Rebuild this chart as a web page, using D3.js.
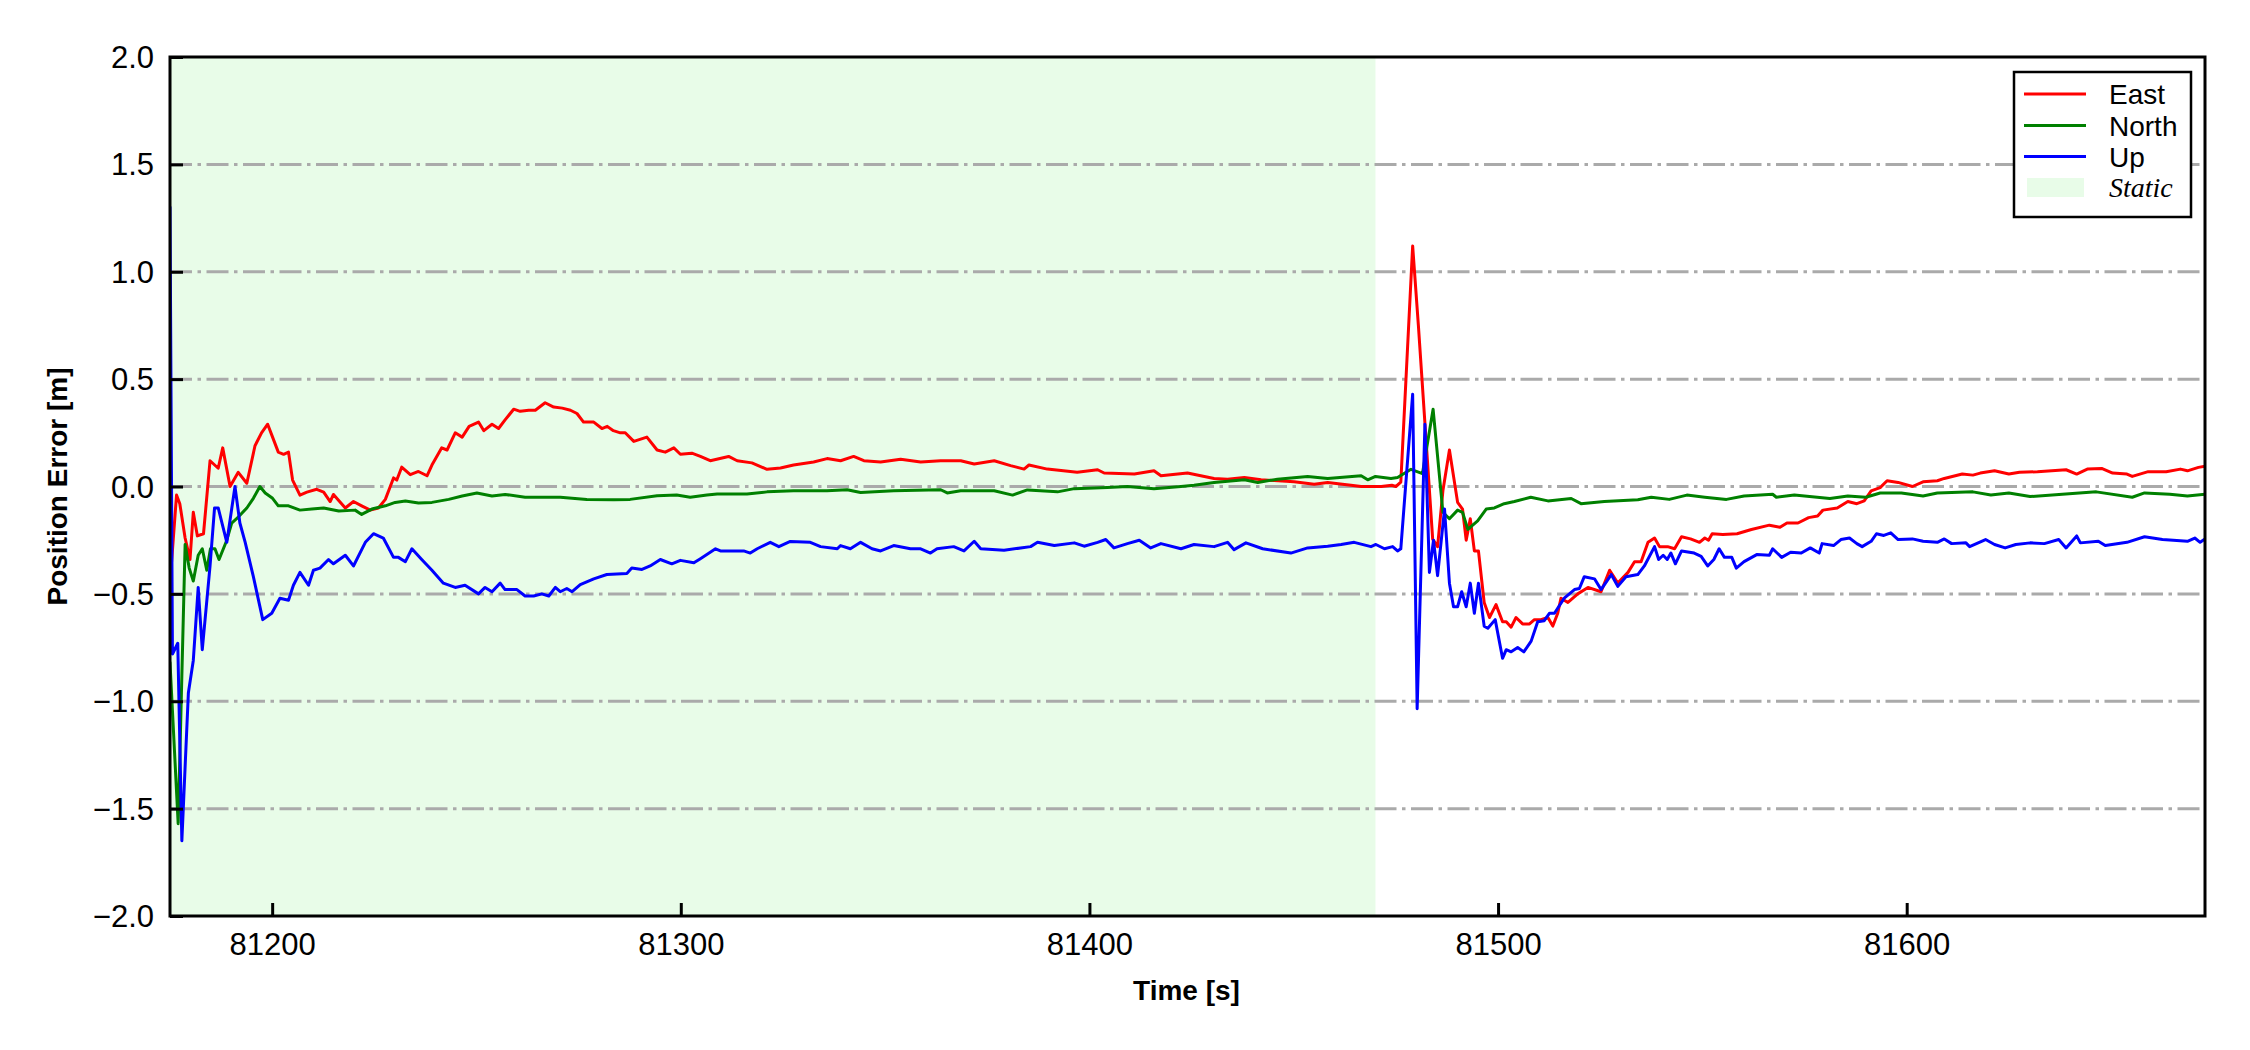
<!DOCTYPE html>
<html>
<head>
<meta charset="utf-8">
<script src="https://cdn.jsdelivr.net/npm/d3@7"></script>
<style>
  html, body { margin: 0; padding: 0; background: #fff; }
  svg { display: block; }
</style>
</head>
<body>
<svg id="chart" width="2250" height="1050"></svg>
<script>
// ---------------- data ----------------
const seriesNames = ["East", "North", "Up"];
const seriesColors = ["#ff0000", "#008000", "#0000ff"];
const staticSpan = [81175, 81470];
const xTicks = [81200, 81300, 81400, 81500, 81600];
const yTicks = [-2.0, -1.5, -1.0, -0.5, 0.0, 0.5, 1.0, 1.5, 2.0];

const eastData = [
[81175,-0.45],[81176.6,-0.04],[81177.4,-0.08],[81178.7,-0.24],[81179.9,-0.34],[81180.7,-0.12],[81181.7,-0.23],[81183.2,-0.22],
[81184.8,0.12],[81186.8,0.085],[81187.9,0.18],[81189.7,0.0],[81191.7,0.066],[81193.8,0.015],[81195.8,0.19],[81197.4,0.25],
[81198.9,0.29],[81200.1,0.23],[81201.5,0.16],[81202.8,0.15],[81204,0.16],[81205,0.03],[81206.8,-0.04],[81208.5,-0.026],
[81210.9,-0.013],[81212.6,-0.026],[81214.2,-0.07],[81215,-0.037],[81217.9,-0.1],[81219.9,-0.07],[81221.9,-0.09],[81224,-0.11],
[81226,-0.1],[81227.7,-0.06],[81229.7,0.04],[81230.5,0.03],[81231.7,0.09],[81233.8,0.055],[81235.8,0.07],[81237.9,0.05],
[81239.1,0.1],[81241.5,0.18],[81242.8,0.17],[81244.8,0.25],[81246.5,0.23],[81248.2,0.28],[81250.5,0.30],[81251.8,0.26],
[81253.8,0.29],[81255.4,0.27],[81257,0.31],[81259.1,0.36],[81260.7,0.35],[81262.8,0.355],[81264.4,0.355],[81266.8,0.39],
[81268.9,0.37],[81271,0.365],[81273,0.355],[81274.6,0.34],[81276.2,0.30],[81278.7,0.30],[81280.7,0.27],[81282,0.28],
[81283.5,0.26],[81285.2,0.25],[81286.4,0.25],[81288.5,0.21],[81291.7,0.23],[81294.2,0.17],[81296.2,0.16],[81298.3,0.18],
[81299.9,0.15],[81302.7,0.155],[81304.8,0.14],[81307.2,0.12],[81311.7,0.14],[81313.8,0.12],[81317.4,0.11],[81321.1,0.08],
[81324.4,0.086],[81327.6,0.10],[81332.5,0.114],[81335.8,0.13],[81339.1,0.12],[81342.3,0.14],[81344.8,0.12],[81348.9,0.114],
[81353.8,0.127],[81358.7,0.114],[81363.6,0.12],[81368.5,0.12],[81371.8,0.105],[81376.7,0.12],[81380.7,0.097],[81384,0.081],
[81385.2,0.1],[81389.7,0.081],[81397,0.066],[81402,0.078],[81403.6,0.063],[81411,0.058],[81415.8,0.073],[81417.5,0.05],
[81424,0.063],[81430.5,0.0375],[81433.8,0.034],[81437.9,0.042],[81442,0.031],[81450.1,0.022],[81455,0.011],[81458.3,0.019],
[81464,0.006],[81466.5,0.0],[81471.4,0.0],[81474,0.006],[81475,0.0],[81476.2,0.02],[81479.1,1.12],[81480.5,0.75],
[81484,-0.245],[81485.2,-0.28],[81486.5,-0.02],[81488.1,0.17],[81490.1,-0.074],[81491.3,-0.105],[81492.2,-0.25],[81493.2,-0.15],
[81494.2,-0.30],[81495.2,-0.30],[81496.6,-0.54],[81497.9,-0.61],[81499.5,-0.55],[81501.1,-0.63],[81502,-0.63],[81503.2,-0.655],
[81504.4,-0.61],[81506,-0.64],[81507.7,-0.64],[81508.9,-0.62],[81510.5,-0.62],[81512.2,-0.61],[81513.4,-0.65],[81514.6,-0.59],
[81515.4,-0.52],[81517.1,-0.54],[81519.5,-0.50],[81522,-0.47],[81525.2,-0.49],[81527.3,-0.39],[81529.3,-0.45],[81531.8,-0.40],
[81533.4,-0.35],[81535,-0.35],[81536.7,-0.26],[81538.3,-0.24],[81539.5,-0.28],[81541.5,-0.28],[81543.2,-0.29],[81544.9,-0.234],
[81547.1,-0.244],[81549.3,-0.26],[81550.6,-0.24],[81551.5,-0.25],[81552.4,-0.22],[81555,-0.223],[81558.5,-0.22],[81562,-0.2],
[81566.4,-0.18],[81569,-0.19],[81570.7,-0.17],[81573.4,-0.17],[81576,-0.145],[81578.2,-0.1375],[81579.5,-0.11],[81583,-0.1],
[81585.6,-0.07],[81587.8,-0.08],[81589.6,-0.067],[81591.3,-0.02],[81593.5,-0.005],[81595.2,0.027],[81597.9,0.019],[81601.4,0.0],
[81604,0.022],[81607.5,0.027],[81609.2,0.0375],[81613.6,0.058],[81616.2,0.053],[81618,0.0625],[81621.5,0.073],[81625,0.058],
[81627.6,0.066],[81632,0.069],[81635.5,0.073],[81639,0.078],[81641.6,0.058],[81644.2,0.081],[81647.7,0.084],[81650.4,0.0625],
[81653.9,0.058],[81655.2,0.047],[81659.1,0.069],[81663.5,0.069],[81667,0.081],[81668.7,0.073],[81671.4,0.089],[81673,0.094]
];

const northData = [
[81175,-0.82],[81177,-1.57],[81178.7,-0.27],[81179.7,-0.38],[81180.7,-0.44],[81181.9,-0.32],[81182.9,-0.29],[81184,-0.39],
[81184.9,-0.29],[81186,-0.29],[81187,-0.34],[81188.9,-0.25],[81190.1,-0.17],[81191.3,-0.15],[81193.8,-0.10],[81195.4,-0.055],
[81197,0.0],[81198.3,-0.03],[81200.1,-0.055],[81201.5,-0.09],[81204,-0.09],[81206.8,-0.11],[81209.7,-0.105],[81212.6,-0.10],
[81216.3,-0.114],[81220.3,-0.11],[81221.9,-0.13],[81224.4,-0.105],[81227.7,-0.09],[81230.1,-0.074],[81232.6,-0.068],[81235.8,-0.077],
[81239.1,-0.074],[81243.2,-0.06],[81246.5,-0.044],[81250.1,-0.03],[81253.8,-0.044],[81257,-0.037],[81261.9,-0.05],[81266.8,-0.05],
[81270.5,-0.05],[81277,-0.06],[81283.6,-0.062],[81287.6,-0.06],[81294.2,-0.043],[81299,-0.04],[81302.3,-0.05],[81306.4,-0.04],
[81308.9,-0.035],[81316.2,-0.035],[81321.1,-0.025],[81327.6,-0.02],[81335.8,-0.02],[81340.7,-0.015],[81344,-0.028],[81352.1,-0.02],
[81363.6,-0.015],[81365.2,-0.03],[81368.5,-0.02],[81376.7,-0.02],[81381.2,-0.04],[81384.8,-0.016],[81392.2,-0.025],[81396.3,-0.01],
[81404.4,-0.005],[81409.3,0.0],[81415.8,-0.01],[81422.4,0.0],[81425.6,0.006],[81430.5,0.019],[81437.9,0.031],[81441.2,0.019],
[81446,0.034],[81453.4,0.047],[81458.3,0.0375],[81466.5,0.05],[81468.1,0.031],[81470,0.047],[81473.8,0.037],[81475.4,0.042],
[81478.7,0.08],[81481.5,0.06],[81484.1,0.36],[81486.5,-0.12],[81488.1,-0.15],[81490.1,-0.11],[81491.3,-0.12],[81492.6,-0.20],
[81495,-0.16],[81497.1,-0.105],[81499.1,-0.10],[81501.5,-0.08],[81504,-0.07],[81508,-0.05],[81512.2,-0.067],[81517.9,-0.056],
[81520.3,-0.08],[81526,-0.07],[81534.2,-0.062],[81537.5,-0.05],[81541.9,-0.06],[81546.2,-0.04],[81550.6,-0.05],[81555.9,-0.06],
[81560.2,-0.044],[81567.2,-0.036],[81568.1,-0.05],[81572.5,-0.04],[81581.2,-0.056],[81585.6,-0.044],[81590,-0.05],[81593.5,-0.03],
[81598.7,-0.03],[81604,-0.044],[81607.5,-0.03],[81616.2,-0.025],[81620.6,-0.04],[81625,-0.03],[81630.2,-0.047],[81638.1,-0.036],
[81646.4,-0.025],[81655.2,-0.05],[81658.2,-0.03],[81664.4,-0.036],[81668.7,-0.044],[81673,-0.036]
];

const upData = [
[81175,1.3],[81175.6,-0.78],[81176.9,-0.73],[81177.9,-1.65],[81179.5,-0.96],[81180.7,-0.81],[81181.9,-0.47],[81182.9,-0.76],
[81184.8,-0.37],[81185.9,-0.10],[81186.8,-0.10],[81188.9,-0.26],[81190.9,0.0],[81192.1,-0.17],[81193.4,-0.26],[81195.4,-0.42],
[81197.7,-0.62],[81199.9,-0.59],[81201.9,-0.52],[81204,-0.53],[81205.2,-0.46],[81206.8,-0.40],[81208.9,-0.46],[81210.1,-0.39],
[81211.7,-0.38],[81213.8,-0.34],[81215,-0.36],[81217.9,-0.32],[81219.9,-0.37],[81222.8,-0.26],[81224.8,-0.22],[81227.2,-0.24],
[81229.7,-0.33],[81230.9,-0.33],[81232.6,-0.35],[81234.2,-0.29],[81236.6,-0.34],[81239.1,-0.39],[81241.9,-0.45],[81244.8,-0.47],
[81247.2,-0.46],[81250.5,-0.50],[81252.1,-0.47],[81253.8,-0.49],[81255.8,-0.45],[81257,-0.48],[81259.9,-0.48],[81261.9,-0.51],
[81264,-0.51],[81266,-0.50],[81267.7,-0.51],[81269.3,-0.47],[81270.5,-0.49],[81272.1,-0.475],[81273.4,-0.49],[81275.4,-0.457],
[81278.7,-0.43],[81281.9,-0.41],[81286.8,-0.405],[81288,-0.38],[81290.5,-0.386],[81292.5,-0.37],[81295,-0.34],[81297.8,-0.36],
[81299.9,-0.344],[81303.2,-0.355],[81304.8,-0.336],[81308.5,-0.29],[81309.7,-0.30],[81315.4,-0.30],[81317,-0.31],[81318.7,-0.29],
[81321.9,-0.26],[81324,-0.28],[81326.8,-0.256],[81331.7,-0.26],[81334.2,-0.28],[81338.3,-0.29],[81339.1,-0.275],[81341.5,-0.29],
[81344,-0.26],[81346.8,-0.29],[81348.9,-0.30],[81352.1,-0.275],[81356.2,-0.29],[81358.7,-0.29],[81361.1,-0.31],[81362.7,-0.29],
[81366.8,-0.28],[81369.3,-0.30],[81371.8,-0.255],[81373.4,-0.29],[81379.1,-0.297],[81385.6,-0.28],[81387.3,-0.26],[81391.4,-0.275],
[81396.3,-0.2625],[81398.7,-0.278],[81402,-0.26],[81404,-0.247],[81406,-0.286],[81409.3,-0.266],[81412.2,-0.25],[81415,-0.286],
[81417.5,-0.266],[81422.4,-0.29],[81425.6,-0.27],[81430.5,-0.28],[81433.8,-0.26],[81435.4,-0.294],[81438.3,-0.2625],[81442.4,-0.29],
[81449.3,-0.31],[81453.4,-0.286],[81458.3,-0.278],[81461.6,-0.27],[81464.8,-0.26],[81468.9,-0.28],[81470.1,-0.27],[81472.2,-0.29],
[81474.2,-0.28],[81475.4,-0.30],[81476.2,-0.29],[81479.1,0.43],[81480.2,-1.035],[81482.1,0.29],[81483.2,-0.40],[81484.2,-0.25],
[81485.2,-0.415],[81486.9,-0.105],[81488.1,-0.45],[81489.1,-0.56],[81490.1,-0.56],[81491.1,-0.49],[81492.2,-0.56],[81493.2,-0.45],
[81494.2,-0.59],[81495.2,-0.45],[81496.6,-0.65],[81497.5,-0.66],[81499.3,-0.62],[81501.1,-0.80],[81502,-0.76],[81503.2,-0.77],
[81504.8,-0.75],[81506.3,-0.77],[81508.1,-0.72],[81509.7,-0.63],[81511.3,-0.625],[81512.6,-0.59],[81513.8,-0.59],[81516.2,-0.52],
[81518.7,-0.48],[81519.9,-0.475],[81521.1,-0.42],[81523.6,-0.43],[81525.2,-0.48],[81527.7,-0.41],[81529.3,-0.465],[81531.3,-0.42],
[81534.2,-0.41],[81535.8,-0.37],[81538.3,-0.28],[81539.3,-0.34],[81540.4,-0.32],[81541.4,-0.34],[81542.3,-0.31],[81543.4,-0.36],
[81544.9,-0.30],[81548,-0.31],[81549.7,-0.325],[81551.3,-0.37],[81552.8,-0.34],[81554.1,-0.29],[81555.4,-0.33],[81557.2,-0.33],
[81558.3,-0.38],[81560.2,-0.35],[81563.3,-0.317],[81566.4,-0.32],[81567.2,-0.29],[81569.4,-0.33],[81571.6,-0.306],[81574.2,-0.31],
[81576.4,-0.286],[81578.6,-0.31],[81579.3,-0.266],[81582.1,-0.275],[81583.9,-0.247],[81586,-0.24],[81587.8,-0.266],[81589.1,-0.28],
[81591.3,-0.255],[81592.6,-0.22],[81594.4,-0.228],[81596.1,-0.216],[81597.9,-0.247],[81601.4,-0.244],[81604,-0.255],[81607.5,-0.26],
[81609.2,-0.244],[81611,-0.266],[81614.5,-0.2625],[81615.4,-0.28],[81619.3,-0.247],[81621.5,-0.27],[81624.1,-0.286],[81626.7,-0.27],
[81630.2,-0.2625],[81633.7,-0.266],[81637.2,-0.247],[81639,-0.286],[81641.6,-0.23],[81642.5,-0.2625],[81646.9,-0.255],[81648.6,-0.275],
[81653.9,-0.26],[81658.2,-0.234],[81662.6,-0.247],[81668.7,-0.255],[81670.5,-0.24],[81671.8,-0.26],[81673,-0.244]
];

const seriesData = [eastData, northData, upData];

// ---------------- layout ----------------
const SANS = "'Liberation Sans', Arial, Helvetica, sans-serif";
const SERIF = "'Liberation Serif', 'Times New Roman', Times, serif";
const STATIC_FILL = "#e8fce8";

const svg = d3.select("#chart");
const L = 170, R = 2205, T = 57, B = 916;
const x = d3.scaleLinear().domain([81175, 81673]).range([L, R]);
const y = d3.scaleLinear().domain([-2, 2]).range([B, T]);
const fmtY = d3.format(".1f");

// static span
svg.append("rect")
  .attr("x", x(staticSpan[0])).attr("y", T)
  .attr("width", x(staticSpan[1]) - x(staticSpan[0])).attr("height", B - T)
  .attr("fill", STATIC_FILL);

// grid lines (dash-dot)
svg.append("g").selectAll("line")
  .data(yTicks.filter(d => d > -2 && d < 2))
  .join("line")
  .attr("x1", L).attr("x2", R)
  .attr("y1", d => y(d)).attr("y2", d => y(d))
  .attr("stroke", "#aaaaaa").attr("stroke-width", 3)
  .attr("stroke-dasharray", "22,5.5,3.5,5.5");

// clip for lines
svg.append("clipPath").attr("id", "clip")
  .append("rect").attr("x", L).attr("y", T).attr("width", R - L).attr("height", B - T);

const line = d3.line().x(d => x(d[0])).y(d => y(d[1]));
const lg = svg.append("g").attr("clip-path", "url(#clip)");
seriesData.forEach((data, i) => {
  lg.append("path").datum(data)
    .attr("d", line)
    .attr("fill", "none")
    .attr("stroke", seriesColors[i])
    .attr("stroke-width", 3)
    .attr("stroke-linejoin", "round")
    .attr("stroke-linecap", "round");
});

// axes (ticks inward)
const yAxis = d3.axisLeft(y).tickValues(yTicks).tickSize(-13).tickPadding(16).tickFormat(fmtY);
const xAxis = d3.axisBottom(x).tickValues(xTicks).tickSize(-13).tickPadding(16).tickFormat(d3.format("d"));

const gy = svg.append("g").attr("transform", `translate(${L},0)`).call(yAxis);
const gx = svg.append("g").attr("transform", `translate(0,${B})`).call(xAxis);
[gx, gy].forEach(g => {
  g.attr("font-family", null).attr("font-size", null);
  g.select(".domain").remove();
  g.selectAll(".tick line").attr("stroke", "#000").attr("stroke-width", 3);
  g.selectAll(".tick text").style("font-size", "31px").style("font-family", SANS).attr("fill", "#000");
});
gx.selectAll(".tick text").attr("dy", null).attr("y", 39);
gy.selectAll(".tick text").attr("x", -16).attr("dy", "0.34em");

// frame
svg.append("rect").attr("x", L).attr("y", T).attr("width", R - L).attr("height", B - T)
  .attr("fill", "none").attr("stroke", "#000").attr("stroke-width", 3);

// axis labels
svg.append("text").attr("x", (L + R) / 2 - 1).attr("y", 1000)
  .attr("text-anchor", "middle").style("font-size", "28px").style("font-weight", "bold").style("font-family", SANS)
  .text("Time [s]");
svg.append("text").attr("transform", `translate(67,${(T + B) / 2}) rotate(-90)`)
  .attr("text-anchor", "middle").style("font-size", "28px").style("font-weight", "bold").style("font-family", SANS)
  .text("Position Error [m]");

// legend
const leg = svg.append("g");
leg.append("rect").attr("x", 2014).attr("y", 72).attr("width", 177).attr("height", 145)
  .attr("fill", "#fff").attr("stroke", "#000").attr("stroke-width", 2.5);
const legY = [94, 125.5, 156.5];
seriesNames.forEach((name, i) => {
  leg.append("line").attr("x1", 2024).attr("x2", 2086).attr("y1", legY[i]).attr("y2", legY[i])
    .attr("stroke", seriesColors[i]).attr("stroke-width", 3);
  leg.append("text").attr("x", 2109).attr("y", legY[i] + 10)
    .style("font-size", "28px").style("font-family", SANS).text(name);
});
leg.append("rect").attr("x", 2027).attr("y", 178).attr("width", 57).attr("height", 19).attr("fill", STATIC_FILL);
leg.append("text").attr("x", 2109).attr("y", 197)
  .style("font-size", "28px").style("font-family", SERIF).style("font-style", "italic")
  .text("Static");
</script>
</body>
</html>
